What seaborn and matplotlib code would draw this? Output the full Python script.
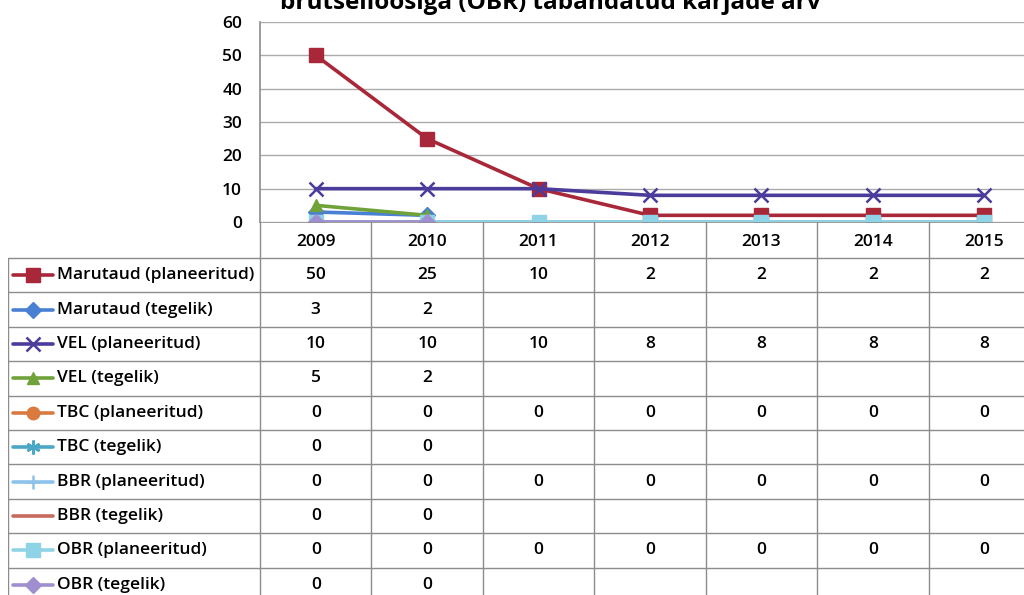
import matplotlib
matplotlib.use("Agg")
import matplotlib.pyplot as plt
import seaborn as sns
import numpy as np

years = ["2009", "2010", "2011", "2012", "2013", "2014", "2015"]
series_names = ["Marutaud (planeeritud)", "Marutaud (tegelik)", "VEL (planeeritud)",
                "VEL (tegelik)", "TBC (planeeritud)", "TBC (tegelik)",
                "BBR (planeeritud)", "BBR (tegelik)", "OBR (planeeritud)", "OBR (tegelik)"]
marutaud_plan = [50, 25, 10, 2, 2, 2, 2]
marutaud_teg = [3, 2]
vel_plan = [10, 10, 10, 8, 8, 8, 8]
vel_teg = [5, 2]
tbc_plan = [0, 0, 0, 0, 0, 0, 0]
tbc_teg = [0, 0]
bbr_plan = [0, 0, 0, 0, 0, 0, 0]
bbr_teg = [0, 0]
obr_plan = [0, 0, 0, 0, 0, 0, 0]
obr_teg = [0, 0]
all_values = [marutaud_plan, marutaud_teg, vel_plan, vel_teg, tbc_plan, tbc_teg,
              bbr_plan, bbr_teg, obr_plan, obr_teg]
y_ticks = [0, 10, 20, 30, 40, 50, 60]
title = "brutselloosiga (OBR) tabandatud karjade arv"

colors = ["#A8283A", "#4A80D4", "#4B3B9B", "#6FA33A", "#D97A3F",
          "#4BA7C5", "#8DC2EA", "#C86B5E", "#8ED3E6", "#A08FD0"]
markers = ["s", "D", "x", "^", "o", (6, 2, 0), "+", None, "s", "D"]
msizes = [10, 8, 10, 9, 9, 10, 10, 0, 10, 8]

sns.set_theme(style="white")
plt.rcParams["font.family"] = ["Open Sans", "DejaVu Sans"]
plt.rcParams["text.color"] = "black"
plt.rcParams["ytick.color"] = "black"
plt.rcParams["ytick.labelcolor"] = "black"
FS = 12.5
FW = "semibold"

W, H = 1024, 595
fig = plt.figure(figsize=(W / 100, H / 100), dpi=100)

# layout in pixels
plot_left, col_w = 260, 111.43
ncol = len(years)
plot_right = plot_left + col_w * ncol
y_top, y_zero = 22, 222
tab_top, row_h, head_h = 222, 34.4, 36
leg_left = 8

def fx(px):
    return px / W

def fy(py):
    return 1 - py / H

ax = fig.add_axes([fx(plot_left), fy(y_zero), fx(plot_right - plot_left), (y_zero - y_top) / H])
x = np.arange(ncol)
for i, vals in enumerate(all_values):
    xs = x[:len(vals)]
    kw = dict(color=colors[i], linewidth=2.6, ax=ax, legend=False, zorder=3 + i * 0.1)
    if markers[i] is not None:
        kw.update(marker=markers[i], markersize=msizes[i], markeredgecolor=colors[i],
                  markeredgewidth=1.8 if markers[i] in ("x", "+", (6, 2, 0)) else 1)
    sns.lineplot(x=xs, y=vals, **kw)
ax.set_xlim(-0.5, ncol - 0.5)
ax.set_ylim(0, 60)
ax.set_yticks(y_ticks)
ax.set_yticklabels([str(t) for t in y_ticks], fontsize=FS, fontweight=FW, color="black")
ax.set_xticks([])
ax.tick_params(axis="y", length=0, pad=13)
ax.grid(axis="y", color="#ABABAB", linewidth=1)
ax.set_axisbelow(True)
for s in ["top", "right", "bottom"]:
    ax.spines[s].set_visible(False)
ax.spines["left"].set_color("#909090")
ax.patch.set_alpha(0)

# data table axes (pixel coordinates)
nrows = len(series_names)
tab_bottom = tab_top + head_h + row_h * nrows
tax = fig.add_axes([fx(leg_left), fy(tab_bottom), fx(plot_right - leg_left), (tab_bottom - tab_top) / H])
tax.set_xlim(leg_left, plot_right)
tax.set_ylim(tab_bottom, tab_top)
tax.axis("off")
lc = "#8C8C8C"
tax.plot([plot_left, plot_right], [tab_top, tab_top], color=lc, lw=1.2)
for k in range(ncol + 1):
    xx = plot_left + k * col_w
    tax.plot([xx, xx], [tab_top, tab_bottom], color=lc, lw=1)
tax.plot([leg_left, leg_left], [tab_top + head_h, tab_bottom], color=lc, lw=1)
for r in range(nrows + 1):
    yy = tab_top + head_h + r * row_h
    tax.plot([leg_left, plot_right], [yy, yy], color=lc, lw=1)
for k, yr in enumerate(years):
    tax.text(plot_left + (k + 0.5) * col_w, tab_top + head_h / 2 + 2, yr,
             ha="center", va="center", fontsize=FS, fontweight=FW, color="black")
for r, (name, vals) in enumerate(zip(series_names, all_values)):
    yc = tab_top + head_h + (r + 0.5) * row_h
    tax.plot([13, 53], [yc, yc], color=colors[r], lw=2.6)
    if markers[r] is not None:
        tax.plot([33], [yc], marker=markers[r], markersize=msizes[r], color=colors[r],
                 markeredgecolor=colors[r],
                 markeredgewidth=1.8 if markers[r] in ("x", "+", (6, 2, 0)) else 1)
    tax.text(57, yc, name, ha="left", va="center", fontsize=FS, fontweight=FW, color="black")
    for k, v in enumerate(vals):
        tax.text(plot_left + (k + 0.5) * col_w, yc, str(v), ha="center", va="center",
                 fontsize=FS, fontweight=FW, color="black")

fig.text(fx(550), fy(3), title, ha="center", va="center", fontsize=17.5,
         fontweight="bold", color="black")

fig.savefig("out.png", dpi=100)
